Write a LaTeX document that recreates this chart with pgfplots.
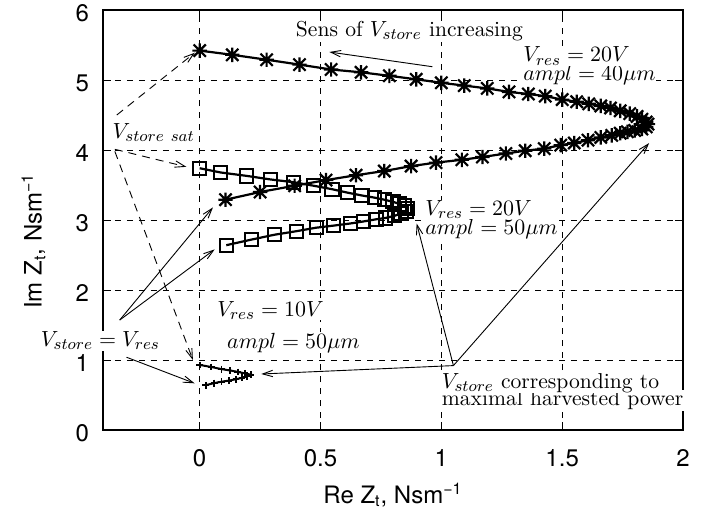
\documentclass[border=0pt]{standalone}
\usepackage{fontspec}
\usepackage{pgfplots}
\pgfplotsset{compat=1.18}
\usetikzlibrary{arrows.meta}
\newfontfamily\hel{TeX Gyre Heros}

% gnuplot-like asterisk: a plus and a cross on top of each other
\pgfdeclareplotmark{gpstar}{%
  \pgfpathmoveto{\pgfqpoint{-\pgfplotmarksize}{0pt}}%
  \pgfpathlineto{\pgfqpoint{\pgfplotmarksize}{0pt}}%
  \pgfpathmoveto{\pgfqpoint{0pt}{-\pgfplotmarksize}}%
  \pgfpathlineto{\pgfqpoint{0pt}{\pgfplotmarksize}}%
  \pgfpathmoveto{\pgfqpoint{-0.85\pgfplotmarksize}{-0.85\pgfplotmarksize}}%
  \pgfpathlineto{\pgfqpoint{0.85\pgfplotmarksize}{0.85\pgfplotmarksize}}%
  \pgfpathmoveto{\pgfqpoint{-0.85\pgfplotmarksize}{0.85\pgfplotmarksize}}%
  \pgfpathlineto{\pgfqpoint{0.85\pgfplotmarksize}{-0.85\pgfplotmarksize}}%
  \pgfusepathqstroke}

\tikzset{
  ann/.style={font=\fontsize{10.8}{12}\selectfont, inner sep=0.3pt, fill=white},
  arr/.style={line width=0.45pt, -{Straight Barb[length=5pt,width=3.2pt]}},
  darr/.style={arr, dash pattern=on 4pt off 3pt},
}

\begin{document}
\begin{tikzpicture}
\path[use as bounding box] (-51.5pt,-42.5pt) rectangle (307.5pt,215pt);
\begin{axis}[
    at={(0,0)}, anchor=south west,
    scale only axis, width=290pt, height=210pt,
    xmin=-0.4, xmax=2, ymin=0, ymax=6,
    xtick={0,0.5,1,1.5,2}, ytick={0,1,2,3,4,5,6},
    grid=major,
    major grid style={black, line width=0.5pt, dash pattern=on 3pt off 3pt},
    axis line style={line width=0.6pt},
    tick style={black, line width=0.5pt},
    tick align=inside, major tick length=4pt,
    ticklabel style={font=\hel\fontsize{12}{14}\selectfont},
    /pgf/number format/assume math mode=true,
    xticklabel style={yshift=-6pt},
    yticklabel style={xshift=-3.5pt, yshift=-1.5pt},
    xlabel={\hel\fontsize{12}{14}\selectfont Re Z\textsubscript{t}, Nsm\textsuperscript{−1}},
    ylabel={\hel\fontsize{12}{14}\selectfont Im Z\textsubscript{t}, Nsm\textsuperscript{−1}},
    xlabel style={at={(axis description cs:0.5,-0.1745)}, anchor=base},
    ylabel style={at={(axis description cs:-0.1057,0.45)}, anchor=base},
    clip=false,
]
% Vres = 20V, ampl = 40um
\addplot[black, line width=1.1pt, mark=gpstar, mark size=3.6pt,
         mark options={line width=1.1pt}] coordinates {
    (0.000,5.42) (0.135,5.36) (0.277,5.29) (0.413,5.22) (0.544,5.15)
    (0.668,5.11) (0.785,5.06) (0.896,5.01) (1.000,4.96) (1.095,4.92)
    (1.190,4.88) (1.280,4.83) (1.360,4.80) (1.430,4.77) (1.500,4.72)
    (1.560,4.69) (1.610,4.66) (1.660,4.63) (1.700,4.60) (1.740,4.56)
    (1.780,4.52) (1.810,4.48) (1.830,4.44) (1.848,4.40) (1.855,4.37)
    (1.848,4.33) (1.830,4.30) (1.800,4.28) (1.770,4.26) (1.740,4.24)
    (1.705,4.21) (1.660,4.18) (1.607,4.14) (1.550,4.10) (1.494,4.07)
    (1.426,4.02) (1.347,3.99) (1.267,3.95) (1.170,3.90) (1.085,3.86)
    (0.978,3.82) (0.875,3.77) (0.764,3.70) (0.647,3.64) (0.523,3.57)
    (0.393,3.49) (0.250,3.40) (0.107,3.29)
};
% Vres = 20V, ampl = 50um
\addplot[black, line width=1.1pt, mark=square, mark size=3.3pt,
         mark options={line width=1pt}] coordinates {
    (0.000,3.74) (0.085,3.68) (0.195,3.63) (0.292,3.58) (0.388,3.54)
    (0.471,3.49) (0.548,3.44) (0.613,3.39) (0.672,3.35) (0.723,3.32)
    (0.764,3.29) (0.800,3.26) (0.826,3.23) (0.847,3.20) (0.861,3.17)
    (0.854,3.12) (0.833,3.09) (0.806,3.06) (0.770,3.03) (0.730,3.01)
    (0.679,2.98) (0.623,2.95) (0.554,2.92) (0.482,2.89) (0.400,2.84)
    (0.310,2.79) (0.214,2.72) (0.110,2.64)
};
% Vres = 10V, ampl = 50um
\addplot[black, line width=1pt, mark=+, mark size=1.7pt,
         mark options={line width=0.9pt}] coordinates {
    (0.000,0.93) (0.048,0.90) (0.090,0.87) (0.127,0.85) (0.158,0.83)
    (0.186,0.81) (0.212,0.79) (0.195,0.765) (0.175,0.745) (0.150,0.725)
    (0.120,0.705) (0.090,0.69) (0.060,0.67) (0.025,0.64)
};

% arrows
\draw[arr] (axis cs:0.963,5.19) -- (axis cs:0.537,5.40);
\draw[darr] (axis cs:-0.343,4.50) -- (axis cs:-0.020,5.39);
\draw[darr] (axis cs:-0.351,4.01) -- (axis cs:-0.055,3.76);
\draw[darr] (axis cs:-0.351,3.98) -- (axis cs:-0.028,1.00);
\draw[arr] (axis cs:-0.331,1.57) -- (axis cs:0.055,3.18);
\draw[arr] (axis cs:-0.331,1.57) -- (axis cs:0.062,2.58);
\draw[arr] (axis cs:-0.303,1.04) -- (axis cs:-0.021,0.667);
\draw[arr] (axis cs:1.05,0.92) -- (axis cs:1.86,4.10);
\draw[arr] (axis cs:1.05,0.92) -- (axis cs:0.898,2.95);
\draw[arr] (axis cs:1.05,0.92) -- (axis cs:0.255,0.80);

% labels (second lines first, so the first line stays on top)
\node[ann, anchor=base] at (axis cs:0.868,5.62) {Sens of $V_{store}$ increasing};

\node[ann, anchor=base west] at (axis cs:1.335,5.00) {$ampl=40\mu m$};
\node[ann, anchor=base west] at (axis cs:1.335,5.26) {$V_{res}=20V$};

\node[ann, anchor=base west] at (axis cs:0.93,2.80) {$ampl=50\mu m$};
\node[ann, anchor=base west] at (axis cs:0.93,3.07) {$V_{res}=20V$};

\node[ann, anchor=base west] at (axis cs:0.11,1.17) {$ampl=50\mu m$};
\node[ann, anchor=base west] at (axis cs:0.069,1.62) {$V_{res}=10V$};

\node[ann, anchor=base west] at (axis cs:-0.364,4.17) {$V_{store\ sat}$};

\node[ann, anchor=base west] at (axis cs:-0.661,1.19) {$V_{store}=V_{res}$};

\node[ann, anchor=base west] at (axis cs:0.998,0.343) {maximal harvested power};
\node[ann, anchor=base west] at (axis cs:0.998,0.595) {$V_{store}$ corresponding to};
\end{axis}
\end{tikzpicture}
\end{document}
